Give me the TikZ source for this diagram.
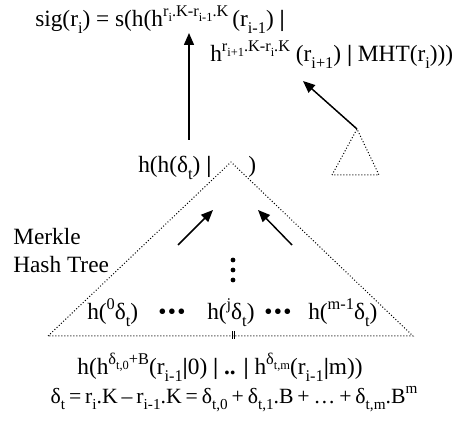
\documentclass[tikz,border=0pt]{standalone}
\usepackage{fontspec}
\setmainfont{Liberation Serif}
\usetikzlibrary{arrows.meta}

\makeatletter
\newcommand{\lo}[1]{\raisebox{-0.28em}{\fontsize{\the\dimexpr 0.7\dimexpr\f@size pt\relax\relax}{\z@}\selectfont #1}}
\newcommand{\hi}[1]{\raisebox{0.45em}{\fontsize{\the\dimexpr 0.7\dimexpr\f@size pt\relax\relax}{\z@}\selectfont #1}}
\newcommand{\lolo}[1]{\raisebox{-0.3em}{\fontsize{\the\dimexpr 0.76\dimexpr\f@size pt\relax\relax}{\z@}\selectfont #1}}
\makeatother
\newcommand{\vb}{\textbf{|}}
\newcommand{\dotrow}{•\kern1pt•\kern1pt•}
\newcommand{\tightsp}{\spaceskip 0.18em\relax}

\tikzset{
  txt/.style={inner sep=0pt, anchor=base west, font=\fontsize{17.5pt}{21pt}\selectfont},
  arr/.style={-{Triangle[length=9pt,width=7.5pt]}, line width=1.1pt},
  dots/.style={line width=0.75pt, dash pattern=on 0.75pt off 1.5pt}
}

\begin{document}
\begin{tikzpicture}[x=0.75pt,y=-0.75pt]

\useasboundingbox
(0,0)
rectangle
(464,427);

% signature
\node[txt]
(sig)
at (35,27)
{sig(r\lo{i}) = s(h(h\hi{r\lolo{i}.K-r\lolo{i-1}.K}\,(r\lo{i-1}) \vb};

\node[txt]
(next)
at (210,62)
{h\hi{r\lolo{i+1}.K-r\lolo{i}.K} (r\lo{i+1}) \vb{} MHT(r\lo{i})))};

% root of the tree
\node[txt]
(root)
at (138,173)
{h(h(δ\lo{t}) \vb};

\node[txt]
(rootclose)
at (248,173)
{)};

\node[txt]
(merkle)
at (13,245)
{Merkle};

\node[txt]
(hashtree)
at (13,273)
{Hash Tree};

% leaves
\node[txt]
(leaf0)
at (87,320)
{h(\hi{0}δ\lo{t})};

\node[txt]
(hdotsa)
at (158,320)
{\dotrow};

\node[txt]
(leafj)
at (207,320)
{h(\hi{j}δ\lo{t})};

\node[txt]
(hdotsb)
at (264,320)
{\dotrow};

\node[txt]
(leafm)
at (308,320)
{h(\hi{m-1}δ\lo{t})};

\node[txt,anchor=base]
(chain)
at (220,375)
{h(h\hi{δ\lolo{t,0}+B}(r\lo{i-1}\vb 0) \vb{} \textbf{..} \vb{} h\hi{δ\lolo{t,m}}(r\lo{i-1}\vb m))};

\node[txt,anchor=base,font=\fontsize{16.3pt}{19pt}\selectfont\tightsp]
(delta)
at (234,403)
{δ\lo{t} = r\lo{i}.K – r\lo{i-1}.K = δ\lo{t,0} + δ\lo{t,1}.B + … + δ\lo{t,m}.B\hi{m}};

% trees
\coordinate (top) at (231,162);
\coordinate (subtop) at (357,129);

\draw[dots]
(48,336)
--
(top)
--
(413,336)
--
cycle;

\draw[dots]
(332,175)
--
(subtop)
--
(379,175)
--
cycle;

\draw[line width=0.5pt]
(232,331)
--
(232,339)
(234.5,331)
--
(234.5,339);

\foreach \y in {260,270,280}
  \fill (233,\y) circle (1.8pt);

% arrows
\coordinate (rootup) at (189,140);
\coordinate (sigdown) at (189,33);
\coordinate (mhtin) at (303,81);
\coordinate (lefttail) at (178,245);
\coordinate (lefthead) at (213,210);
\coordinate (righttail) at (292,245);
\coordinate (righthead) at (258,210);

\draw[arr]
(rootup)
--
(sigdown);

\draw[arr]
(subtop)
--
(mhtin);

\draw[arr]
(lefttail)
--
(lefthead);

\draw[arr]
(righttail)
--
(righthead);

\end{tikzpicture}
\end{document}
